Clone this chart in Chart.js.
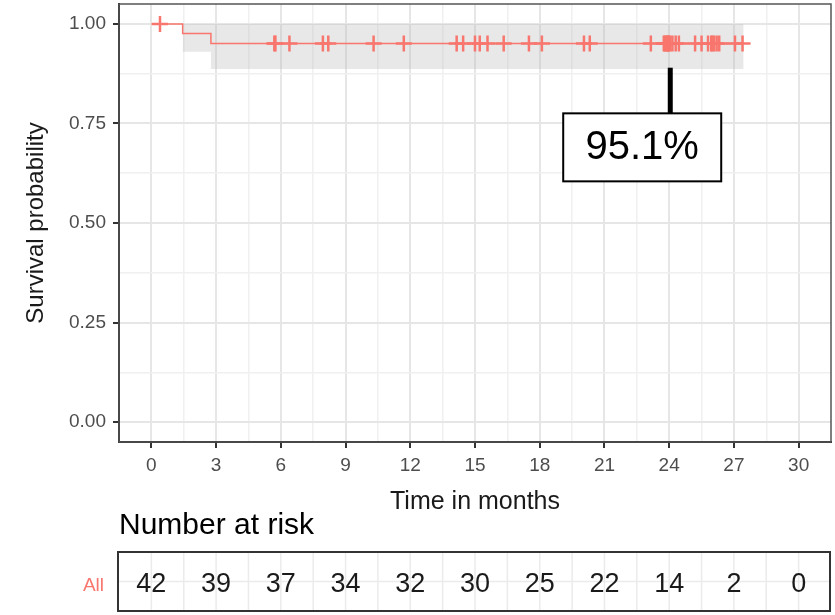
<!DOCTYPE html>
<html>
<head>
<meta charset="utf-8">
<script src="https://cdn.jsdelivr.net/npm/chart.js@4/dist/chart.umd.min.js"></script>
<style>
  html, body { margin: 0; padding: 0; background: #ffffff; }
  canvas { display: block; }
</style>
</head>
<body>
<canvas id="km" width="835" height="615"></canvas>
<script>
// Kaplan-Meier estimate: times (months) where the curve changes, and its level after each
const stepTimes = [0, 1.45, 2.76, 27.45];
const survival = [1.0, 0.976, 0.951, 0.951];

// 95% confidence band around the curve (upper limit clipped at 1)
const bandTimes = [1.45, 2.76, 27.45];
const bandUpper = [1.0, 1.0, 1.0];
const bandLower = [0.93, 0.887, 0.887];

// censored follow-up times (months)
const censorTimes = [0.4, 5.7, 5.75, 6.4, 7.95, 8.2, 10.3, 11.7, 14.15, 14.45,
  15.0, 15.22, 15.58, 16.33, 17.5, 18.1, 20.05, 20.32, 23.15, 23.75,
  23.8, 23.85, 23.9, 23.93, 23.96, 23.98, 24.05, 24.15, 24.3, 24.45,
  25.2, 25.5, 25.8, 25.95, 26.0, 26.08, 26.2, 26.32, 27.05, 27.4];

// number-at-risk table
const riskTimes = [0, 3, 6, 9, 12, 15, 18, 21, 24, 27, 30];
const riskCounts = [42, 39, 37, 34, 32, 30, 25, 22, 14, 2, 0];
const riskGroup = 'All';

// axis ticks (major ones get labels, minor ones only grid lines)
const xMajorTicks = [0, 3, 6, 9, 12, 15, 18, 21, 24, 27, 30];
const xMinorTicks = [1.5, 4.5, 7.5, 10.5, 13.5, 16.5, 19.5, 22.5, 25.5, 28.5];
const yMajorTicks = [0, 0.25, 0.5, 0.75, 1.0];
const yMinorTicks = [0.125, 0.375, 0.625, 0.875];

// highlighted estimate: value shown, where the pointer starts, where the box sits
const highlightValue = 0.951;
const highlightTime = 24.05;
const highlightPointerTop = 0.89;
const highlightBoxTime = 22.75;
const highlightBoxProb = 0.69;

const FONT = "'Liberation Sans', Arial, sans-serif";
const KM_COLOR = '#F8766D';

function survivalAt(t) {
  let s = survival[0];
  for (let i = 0; i < stepTimes.length; i++) {
    if (stepTimes[i] <= t) s = survival[i];
  }
  return s;
}

const isMajorX = v => xMajorTicks.some(m => Math.abs(m - v) < 1e-9);
const isMajorY = v => yMajorTicks.some(m => Math.abs(m - v) < 1e-9);

const allX = xMajorTicks.concat(xMinorTicks).sort((a, b) => a - b);
const allY = yMajorTicks.concat(yMinorTicks).sort((a, b) => a - b);

// keep the panel exactly where the layout padding puts it
function noScalePadding(s) {
  s.paddingTop = 0;
  s.paddingBottom = 0;
  s.paddingLeft = 0;
  s.paddingRight = 0;
}

// panel border + highlight box
const panelPlugin = {
  id: 'panelDecor',
  afterDatasetsDraw(chart) {
    const { ctx, chartArea: a, scales } = chart;
    ctx.save();
    ctx.strokeStyle = '#555555';
    ctx.lineWidth = 1.5;
    ctx.strokeRect(a.left, a.top, a.right - a.left, a.bottom - a.top);

    const xs = scales.x, ys = scales.y;
    const px = xs.getPixelForValue(highlightTime);
    const bx = xs.getPixelForValue(highlightBoxTime);
    const by = ys.getPixelForValue(highlightBoxProb);
    const bw = 158, bh = 68;
    ctx.strokeStyle = '#000000';
    ctx.lineWidth = 5;
    ctx.beginPath();
    ctx.moveTo(px, ys.getPixelForValue(highlightPointerTop));
    ctx.lineTo(px, by - bh / 2);
    ctx.stroke();
    ctx.fillStyle = '#ffffff';
    ctx.fillRect(bx - bw / 2, by - bh / 2, bw, bh);
    ctx.lineWidth = 2;
    ctx.strokeRect(bx - bw / 2, by - bh / 2, bw, bh);
    ctx.fillStyle = '#000000';
    ctx.font = '40px ' + FONT;
    ctx.textAlign = 'center';
    ctx.textBaseline = 'middle';
    ctx.fillText((highlightValue * 100).toFixed(1) + '%', bx, by + 1);
    ctx.restore();
  }
};

// number-at-risk table under the time axis, aligned on the same x scale
const riskPlugin = {
  id: 'riskTable',
  afterDraw(chart) {
    const { ctx, chartArea: a, scales } = chart;
    const xs = scales.x;
    const top = 552, bottom = 611;
    const mid = (top + bottom) / 2;
    ctx.save();
    ctx.fillStyle = '#000000';
    ctx.font = '30px ' + FONT;
    ctx.textAlign = 'left';
    ctx.textBaseline = 'alphabetic';
    ctx.fillText('Number at risk', a.left, 534);

    ctx.strokeStyle = '#ebebeb';
    ctx.lineWidth = 1.5;
    allX.forEach(v => {
      const x = xs.getPixelForValue(v);
      ctx.beginPath();
      ctx.moveTo(x, top);
      ctx.lineTo(x, bottom);
      ctx.stroke();
    });
    ctx.beginPath();
    ctx.moveTo(a.left, mid);
    ctx.lineTo(a.right, mid);
    ctx.stroke();

    ctx.strokeStyle = '#333333';
    ctx.lineWidth = 2;
    ctx.strokeRect(a.left - 1, top, a.right - a.left, bottom - top);

    ctx.fillStyle = '#1a1a1a';
    ctx.font = '27px ' + FONT;
    ctx.textAlign = 'center';
    riskTimes.forEach((t, i) => {
      ctx.fillText(String(riskCounts[i]), xs.getPixelForValue(t), 592);
    });

    ctx.fillStyle = KM_COLOR;
    ctx.font = '19px ' + FONT;
    ctx.textAlign = 'right';
    ctx.fillText(riskGroup, 104, 591);
    ctx.restore();
  }
};

new Chart(document.getElementById('km'), {
  type: 'line',
  data: {
    datasets: [
      {
        type: 'scatter',
        label: 'censored',
        data: censorTimes.map(t => ({ x: t, y: survivalAt(t) })),
        pointStyle: 'cross',
        pointRadius: 8,
        borderWidth: 2.5,
        borderColor: KM_COLOR,
        backgroundColor: KM_COLOR,
        order: 0
      },
      {
        label: 'survival',
        data: stepTimes.map((t, i) => ({ x: t, y: survival[i] })),
        stepped: true,
        borderColor: KM_COLOR,
        borderWidth: 1.5,
        pointRadius: 0,
        fill: false,
        order: 1
      },
      {
        label: 'upper',
        data: bandTimes.map((t, i) => ({ x: t, y: bandUpper[i] })),
        stepped: true,
        borderWidth: 0,
        borderColor: 'rgba(0,0,0,0)',
        pointRadius: 0,
        fill: '+1',
        backgroundColor: 'rgba(185,185,185,0.33)',
        order: 2
      },
      {
        label: 'lower',
        data: bandTimes.map((t, i) => ({ x: t, y: bandLower[i] })),
        stepped: true,
        borderWidth: 0,
        borderColor: 'rgba(0,0,0,0)',
        pointRadius: 0,
        fill: false,
        order: 3
      }
    ]
  },
  options: {
    responsive: false,
    animation: false,
    layout: { autoPadding: false, padding: { left: 0, right: 4, top: 4, bottom: 98 } },
    plugins: { legend: { display: false }, tooltip: { enabled: false } },
    scales: {
      x: {
        type: 'linear',
        min: -1.5,
        max: 31.5,
        afterBuildTicks: s => { s.ticks = allX.map(v => ({ value: v })); },
        afterFit: s => { s.height = 75; noScalePadding(s); },
        grid: {
          color: c => isMajorX(c.tick.value) ? '#e6e6e6' : '#f0f0f0',
          lineWidth: c => isMajorX(c.tick.value) ? 2 : 1.5,
          tickLength: 6,
          tickColor: c => isMajorX(c.tick.value) ? '#333333' : 'rgba(0,0,0,0)',
          tickWidth: 2
        },
        border: { display: true, color: '#222222', width: 2 },
        ticks: {
          autoSkip: false,
          maxRotation: 0,
          padding: 6,
          color: '#4d4d4d',
          font: { family: FONT, size: 19 },
          callback: v => isMajorX(v) ? String(v) : ''
        },
        title: {
          display: true,
          text: 'Time in months',
          color: '#1a1a1a',
          font: { family: FONT, size: 25 },
          padding: { top: 0, bottom: 0 }
        }
      },
      y: {
        type: 'linear',
        min: -0.05,
        max: 1.05,
        afterBuildTicks: s => { s.ticks = allY.map(v => ({ value: v })); },
        afterFit: s => { s.width = 119; noScalePadding(s); },
        grid: {
          color: c => isMajorY(c.tick.value) ? '#e6e6e6' : '#f0f0f0',
          lineWidth: c => isMajorY(c.tick.value) ? 2 : 1.5,
          tickLength: 6,
          tickColor: c => isMajorY(c.tick.value) ? '#333333' : 'rgba(0,0,0,0)',
          tickWidth: 2
        },
        border: { display: true, color: '#222222', width: 2 },
        ticks: {
          autoSkip: false,
          padding: 7,
          color: '#4d4d4d',
          font: { family: FONT, size: 19 },
          callback: v => isMajorY(v) ? v.toFixed(2) : ''
        },
        title: {
          display: true,
          text: 'Survival probability',
          color: '#1a1a1a',
          font: { family: FONT, size: 24 },
          padding: { top: 22, bottom: 0 }
        }
      }
    }
  },
  plugins: [panelPlugin, riskPlugin]
});
</script>
</body>
</html>
